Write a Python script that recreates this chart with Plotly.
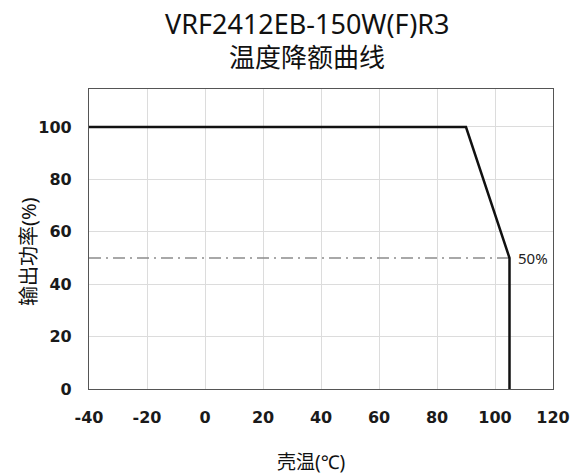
import plotly.graph_objects as go

# Data
temp_c = [-40, 90, 105, 105]
output_pct = [100, 100, 50, 0]
ref_x = [-40, 105]
ref_y = [50, 50]
x_ticks = [-40, -20, 0, 20, 40, 60, 80, 100, 120]
x_tick_text = ["-40", "-20", "0", "20", "40", "60", "80", "100", "120"]
y_ticks = [0, 20, 40, 60, 80, 100]
y_tick_text = ["0", "20", "40", "60", "80", "100"]
label_text = "50%"
title_line1 = "VRF2412EB-150W(F)R3"
title_line2 = "温度降额曲线"
x_title = "壳温(℃)"
y_title = "输出功率(%)"

FONT = "Noto Sans, Noto Sans CJK SC, sans-serif"
TICKFONT = "DejaVu Sans, sans-serif"

W, H = 582, 476
L, R, T, B = 89, 29, 89, 87
PW, PH = W - L - R, H - T - B


def px_x(p):
    return (p - L) / PW


def px_y(p):
    return (H - B - p) / PH


fig = go.Figure()
fig.add_trace(go.Scatter(x=ref_x, y=ref_y, mode="lines",
                         line=dict(color="#8c8c8c", width=1.5, dash="12px,5px,2px,5px"),
                         hoverinfo="skip", showlegend=False))
fig.add_trace(go.Scatter(x=temp_c, y=output_pct, mode="lines",
                         line=dict(color="#111111", width=2.5),
                         showlegend=False))
fig.add_annotation(x=ref_x[-1], y=ref_y[-1], text=label_text, showarrow=False,
                   xanchor="left", yanchor="middle", xshift=6,
                   font=dict(family=FONT, size=15, color="#222"))

# titles
fig.add_annotation(xref="paper", yref="paper", x=px_x(307), y=px_y(23),
                   text=title_line1, showarrow=False, xanchor="center", yanchor="middle",
                   font=dict(family=FONT, size=27, color="#111"))
fig.add_annotation(xref="paper", yref="paper", x=px_x(307), y=px_y(57),
                   text=title_line2, showarrow=False, xanchor="center", yanchor="middle",
                   font=dict(family=FONT, size=26, color="#111"))
fig.add_annotation(xref="paper", yref="paper", x=px_x(311), y=px_y(462),
                   text=x_title, showarrow=False, xanchor="center", yanchor="middle",
                   font=dict(family=FONT, size=19, color="#111"))
fig.add_annotation(xref="paper", yref="paper", x=px_x(28), y=px_y(252),
                   text=y_title, showarrow=False, xanchor="center", yanchor="middle",
                   textangle=-90,
                   font=dict(family=FONT, size=20, color="#111"))

fig.update_layout(
    width=W, height=H,
    margin=dict(l=L, r=R, t=T, b=B),
    paper_bgcolor="white", plot_bgcolor="white",
    font=dict(family=FONT, color="#111"),
)
fig.update_xaxes(range=[-40, 120], tickvals=x_ticks, ticktext=x_tick_text, showgrid=True,
                 gridcolor="#dcdcdc", gridwidth=1, zeroline=False,
                 showline=True, linecolor="#555", linewidth=1.2, mirror=True,
                 ticks="", ticklabelstandoff=14,
                 tickfont=dict(family=TICKFONT, size=16, color="#1a1a1a", weight=600))
fig.update_yaxes(range=[0, 114.5], tickvals=y_ticks, ticktext=y_tick_text, showgrid=True,
                 gridcolor="#dcdcdc", gridwidth=1, zeroline=False,
                 showline=True, linecolor="#555", linewidth=1.2, mirror=True,
                 ticks="", ticklabelstandoff=13,
                 tickfont=dict(family=TICKFONT, size=16, color="#1a1a1a", weight=600))

fig.write_html("out.html")
